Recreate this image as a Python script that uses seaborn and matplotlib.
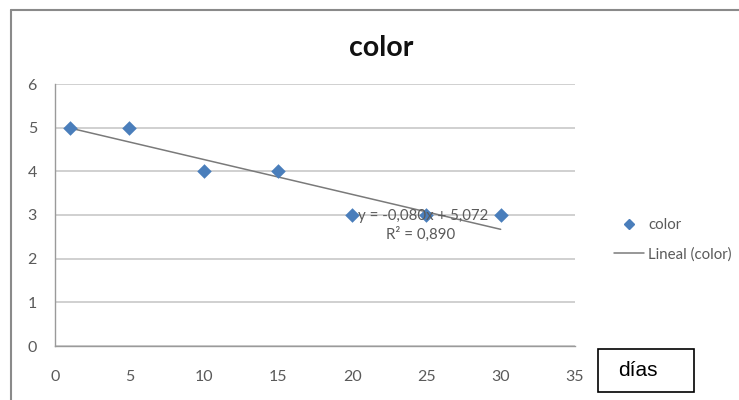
import numpy as np
import pandas as pd
import matplotlib
matplotlib.use("Agg")
import matplotlib.pyplot as plt
import seaborn as sns
from matplotlib.patches import Rectangle
from matplotlib.lines import Line2D

# Observations: storage days and colour score
dias = [1, 5, 10, 15, 20, 25, 30]
color = [5, 5, 4, 4, 3, 3, 3]
x_ticks = [0, 5, 10, 15, 20, 25, 30, 35]
y_ticks = [0, 1, 2, 3, 4, 5, 6]

# Linear trend as reported on the chart
trend_slope = -0.080
trend_intercept = 5.072
trend_r2 = 0.890

df = pd.DataFrame({"dias": dias, "color": color})
trend = pd.DataFrame({"dias": [min(dias), max(dias)]})
trend["color"] = trend_slope * trend["dias"] + trend_intercept

sns.set_theme(style="white")
plt.rcParams["font.family"] = ["Lato", "DejaVu Sans"]

fig = plt.figure(figsize=(7.39, 4.0), dpi=100)
ax = fig.add_axes([0.0744, 0.135, 0.7036, 0.655])

ax.set_xlim(0, 35)
ax.set_ylim(0, 6)
ax.set_xticks(x_ticks)
ax.set_yticks(y_ticks)
ax.yaxis.grid(True, color="#c8c8c8", linewidth=1.2)
ax.xaxis.grid(False)
for s in ["top", "right"]:
    ax.spines[s].set_visible(False)
for s in ["left", "bottom"]:
    ax.spines[s].set_color("#9a9a9a")
    ax.spines[s].set_linewidth(1.0)
ax.tick_params(axis="both", which="both", length=4, color="#9a9a9a",
               labelsize=11.5, labelcolor="#5a5a5a", direction="inout")
ax.tick_params(axis="x", pad=15)
ax.tick_params(axis="y", pad=11)

sns.lineplot(data=trend, x="dias", y="color", ax=ax, color="#7a7a7a",
             linewidth=1.1, zorder=3)
sns.scatterplot(data=df, x="dias", y="color", ax=ax, marker="D", s=55,
                color="#4a7ebb", edgecolor="#4a7ebb", linewidth=0, zorder=4)
ax.set_xlabel("")
ax.set_ylabel("")

eq = f"y = {trend_slope:.3f}x + {trend_intercept:.3f}".replace(".", ",")
ax.text(24.75, 2.98, eq, ha="center", va="center", fontsize=10.8, color="#5a5a5a", zorder=5)
ax.text(24.6, 2.55, f"R² = {trend_r2:.3f}".replace(".", ","), ha="center", va="center",
        fontsize=10.8, color="#5a5a5a", zorder=5)

fig.text(0.516, 0.88, "color", ha="center", va="center", fontsize=20.5,
         fontweight="bold", color="#111111")

# Legend entries
handles = [
    Line2D([], [], marker="D", linestyle="none", color="#4a7ebb", markersize=5.5),
    Line2D([], [], color="#7a7a7a", linewidth=1.1),
]
leg = fig.legend(handles, ["color", "Lineal (color)"], loc="center left",
                 bbox_to_anchor=(0.813, 0.40), frameon=False, fontsize=10.8,
                 handlelength=2.0, handletextpad=0.25, labelspacing=1.0)
for t in leg.get_texts():
    t.set_color("#5a5a5a")

# Chart frame
fig.add_artist(Line2D([0.0149, 1.0], [0.975, 0.975], transform=fig.transFigure,
                      color="#8a8a8a", linewidth=1.5))
fig.add_artist(Line2D([0.0149, 0.0149], [0.0, 0.975], transform=fig.transFigure,
                      color="#8a8a8a", linewidth=1.5))

# Axis caption box
fig.add_artist(Rectangle((0.809, 0.02), 0.130, 0.107, transform=fig.transFigure,
                         facecolor="white", edgecolor="black", linewidth=1.2))
fig.text(0.836, 0.073, "días", ha="left", va="center", fontsize=15,
         family=["Liberation Sans", "DejaVu Sans"], color="black")

fig.savefig("out.png", dpi=100)
